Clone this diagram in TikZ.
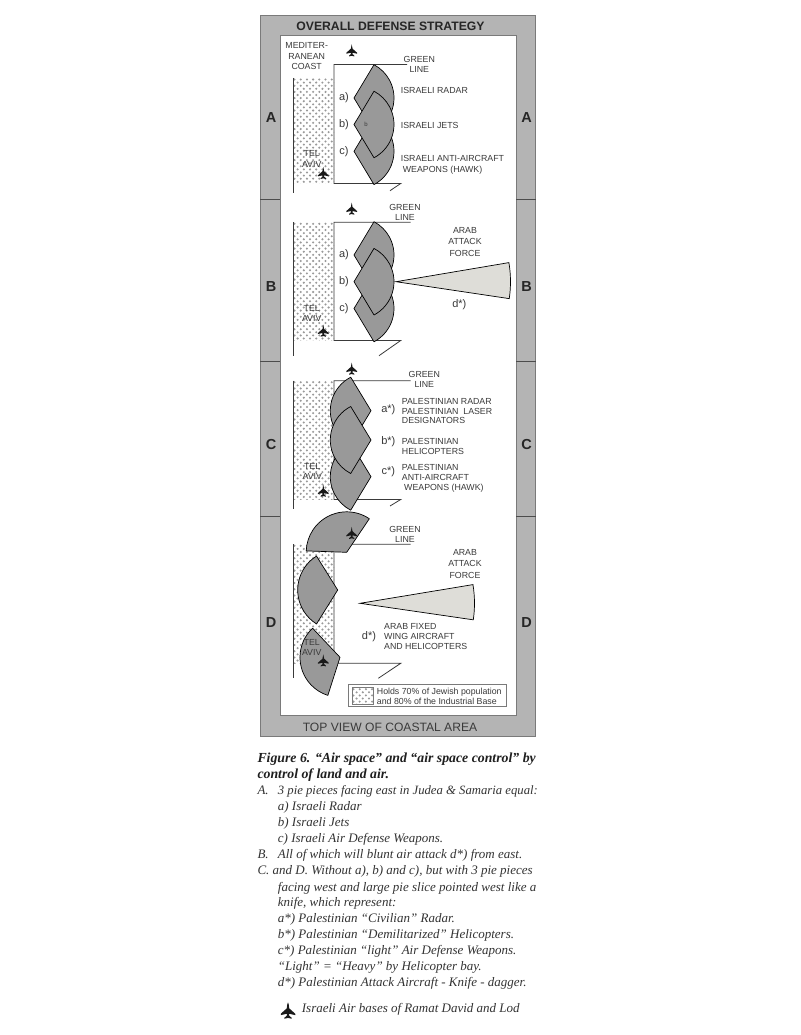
\documentclass[tikz,border=0pt]{standalone}
\usepackage{fontspec}
\setmainfont{Liberation Serif}
\setsansfont{Liberation Sans}
\definecolor{barg}{HTML}{B4B4B4}
\definecolor{barl}{HTML}{7A7A7A}
\definecolor{pieg}{HTML}{999999}
\definecolor{knifeg}{HTML}{DEDDD8}
\definecolor{inkg}{HTML}{3A3A3A}
\definecolor{capg}{HTML}{333333}
\tikzset{
 barbox/.style={draw=barl,fill=barg,line width=.8pt},
 pieshape/.style={draw=black,fill=pieg,line width=.7pt,line join=round},
 knifeshape/.style={draw=black,fill=knifeg,line width=.7pt,line join=miter},
 boundary/.style={draw=inkg,line width=.8pt},
 lbl/.style={font=\sffamily\fontsize{8.8}{9}\selectfont,text=inkg,inner sep=0pt,text height=6pt,text depth=0pt},
 lblw/.style={lbl,anchor=west},
 letter/.style={font=\sffamily\fontsize{11}{11}\selectfont,text=inkg,inner sep=0pt,text height=8pt,text depth=2pt},
 side/.style={font=\sffamily\bfseries\fontsize{14.5}{15}\selectfont,text=black!85,inner sep=0pt},
 captxt/.style={font=\itshape\fontsize{13}{14}\selectfont,text=capg,inner sep=0pt,anchor=west,text height=8.5pt,text depth=3pt},
 captxtb/.style={font=\itshape\bfseries\fontsize{13.8}{14}\selectfont,text=black!88,inner sep=0pt,anchor=west,text height=8.5pt,text depth=3pt},
}
\newcommand{\pieat}[5]{\path[pieshape] (#1,#2) -- ++(#4:#3pt) arc[start angle=#4,end angle=#5,radius=#3pt] -- cycle;}
% east-facing pie: apex, with the arc's centre 2.3 to the right of it
\newcommand{\pieeast}[2]{\path[pieshape] (#1,#2) -- ($(#1+2.3,#2)+(-62:37.7pt)$) arc[start angle=-62,end angle=62,radius=37.7pt] -- cycle;}
% west-facing pie: apex, with the arc's centre 3 to the left of it
\newcommand{\piewest}[2]{\path[pieshape] (#1,#2) -- ($(#1-3,#2)+(117.3:37.7pt)$) arc[start angle=117.3,end angle=242.7,radius=37.7pt] -- cycle;}
\newcommand{\knifeat}[5]{\path[knifeshape] (#1,#2) -- ++(#4:#3pt) arc[start angle=#4,end angle=#5,radius=#3pt] -- cycle;}
\newcommand{\jetsc}[3]{\begin{scope}[shift={(#1,#2)},scale=#3]
 \fill[black!90] (0,-7) .. controls (.7,-5.5) and (.9,-4) .. (.9,-2.2) -- (5.8,2.2) -- (5.8,3.3) -- (1,2.2) -- (.8,3.6) -- (2.9,5.4) -- (2.9,6.2) -- (0,5.5) -- (-2.9,6.2) -- (-2.9,5.4) -- (-.8,3.6) -- (-1,2.2) -- (-5.8,3.3) -- (-5.8,2.2) -- (-.9,-2.2) .. controls (-.9,-4) and (-.7,-5.5) .. (0,-7) -- cycle;
\end{scope}}
\newcommand{\jetat}[2]{\jetsc{#1}{#2}{.92}}
\newcommand{\stipple}[4]{\begin{scope}
 \clip (#1,#2) rectangle (#3,#4);
 \fill[white] (#1,#2) rectangle (#3,#4);
 \foreach \ix in {0,...,28}{\foreach \iy in {0,...,42}{
  \pgfmathsetmacro{\dx}{#1+1.5+\ix*3.1}
  \pgfmathsetmacro{\dy}{#2+1.5+\iy*3.1}
  \pgfmathparse{int(mod(\ix+\iy,2))}
  \ifnum\pgfmathresult=0 \fill[black!40] (\dx,\dy) circle (1.15pt);\fi
 }}
\end{scope}}
\usetikzlibrary{calc}
\begin{document}
\begin{tikzpicture}[x=1pt,y=-1pt]
\useasboundingbox (0,0) rectangle (800,1035);
\fill[white] (0,0) rectangle (800,1035);
% frame
\path[barbox] (260,15) rectangle (535.5,736);
\fill[white] (280,35) rectangle (516,715);
\draw[barl,line width=.8pt] (280,35) rectangle (516,715);
\foreach \yy in {199,361,516}{
 \draw[black!70,line width=.7pt] (260,\yy) -- (280,\yy);
 \draw[black!70,line width=.7pt] (516,\yy) -- (535.5,\yy);
}
\node[font=\sffamily\bfseries\fontsize{12.2}{13}\selectfont,text=black!85,inner sep=0pt] (title) at (390.5,26) {OVERALL DEFENSE STRATEGY};
\node[font=\sffamily\fontsize{12.1}{13}\selectfont,text=inkg,inner sep=0pt] (foot) at (390,727) {TOP VIEW OF COASTAL AREA};
\node[side] (la) at (271,117.3) {A}; \node[side] (ra) at (526.7,117.3) {A};
\node[side] (lb) at (271,286.7) {B}; \node[side] (rb) at (526.7,286.7) {B};
\node[side] (lc) at (271,445) {C}; \node[side] (rc) at (526.7,445) {C};
\node[side] (ld) at (271,623) {D}; \node[side] (rd) at (526.7,623) {D};
% ---------- A
\stipple{293}{78}{334}{183.5}
\draw[boundary] (293,78) -- (293,193);
\draw[boundary] (407,64.5) -- (334,64.5) -- (334,183.5) -- (400.7,183.5) -- (390,190.7);
\pieeast{354}{98}
\pieeast{354}{151.3}
\pieeast{354}{124.5}
\jetat{351.7}{50.7}\jetat{323.3}{173.3}
\node[lbl] (a1) at (306.7,45.7) {MEDITER-};
\node[lbl] (a2) at (306.7,56.3) {RANEAN};
\node[lbl] (a3) at (306.7,67) {COAST};
\node[lbl] (a4) at (419.3,59.3) {GREEN};
\node[lbl] (a5) at (419.3,70) {LINE};
\node[letter] (a6) at (344,97.3) {a)};
\node[letter] (a7) at (344,124.3) {b)};
\node[letter] (a8) at (344,151.7) {c)};
\node[lbl,font=\sffamily\fontsize{6}{7}\selectfont] (a9) at (366,124) {b};
\node[lblw] (a10) at (400.7,91) {ISRAELI RADAR};
\node[lblw] (a11) at (400.7,125.7) {ISRAELI JETS};
\node[lblw] (a12) at (400.7,159) {ISRAELI ANTI-AIRCRAFT};
\node[lblw] (a13) at (402.7,169.3) {WEAPONS (HAWK)};
\node[lbl] (a14) at (311.7,154) {TEL};
\node[lbl] (a15) at (311.7,164.3) {AVIV};
% ---------- B
\stipple{293}{222.3}{334}{340.5}
\draw[boundary] (293,222.3) -- (293,356);
\draw[boundary] (410.7,222.3) -- (334,222.3) -- (334,340.5) -- (400.7,340.5) -- (379,355.7);
\pieeast{354}{255}
\pieeast{354}{308.5}
\pieeast{354}{281.7}
\knifeat{396}{281.7}{114.5}{-8.5}{9.6}
\jetat{351.7}{209}\jetat{323.3}{331}
\node[lbl] (b1) at (405,207.7) {GREEN};
\node[lbl] (b2) at (405,217.3) {LINE};
\node[letter] (b3) at (344,254.3) {a)};
\node[letter] (b4) at (344,281.7) {b)};
\node[letter] (b5) at (344,308.3) {c)};
\node[lbl] (b6) at (465,230) {ARAB};
\node[lbl] (b7) at (465,241.7) {ATTACK};
\node[lbl] (b8) at (465,253) {FORCE};
\node[letter] (b9) at (459.3,304.3) {d*)};
\node[lbl] (b10) at (311.7,308.3) {TEL};
\node[lbl] (b11) at (311.7,318.3) {AVIV};
% ---------- C
\stipple{293}{380.7}{334}{499.5}
\draw[boundary] (293,380.7) -- (293,509);
\draw[boundary] (410.7,380.7) -- (334,380.7) -- (334,499.5) -- (400.7,499.5) -- (390,506);
\piewest{371}{410.7}
\piewest{371}{476.7}
\piewest{371}{440}
\jetat{351.7}{369}\jetat{323.3}{491}
\node[lbl] (c1) at (424.3,374.3) {GREEN};
\node[lbl] (c2) at (424.3,384.3) {LINE};
\node[letter] (c3) at (388.3,409.3) {a*)};
\node[letter] (c4) at (388.3,441) {b*)};
\node[letter] (c5) at (388.3,471) {c*)};
\node[lblw] (c6) at (401.7,401.7) {PALESTINIAN RADAR};
\node[lblw] (c7) at (401.7,411.7) {PALESTINIAN\ \ LASER};
\node[lblw] (c8) at (401.7,420) {DESIGNATORS};
\node[lblw] (c9) at (401.7,441.7) {PALESTINIAN};
\node[lblw] (c10) at (401.7,451) {HELICOPTERS};
\node[lblw] (c11) at (401.7,467.3) {PALESTINIAN};
\node[lblw] (c12) at (401.7,477.7) {ANTI-AIRCRAFT};
\node[lblw] (c13) at (404,487.3) {WEAPONS (HAWK)};
\node[lbl] (c14) at (312.3,466.7) {TEL};
\node[lbl] (c15) at (312.3,476.7) {AVIV};
% ---------- D
\stipple{293}{544.3}{334}{663.3}
\draw[boundary] (293,544.3) -- (293,678.3);
\draw[boundary] (410.7,544.3) -- (334,544.3) -- (334,663.3) -- (400.7,663.3) -- (378.3,678.3);
\pieat{346.7}{552.3}{40.5}{56}{178}
\pieat{337.7}{590}{40}{122}{238}
\pieat{340}{657.3}{40}{133.3}{252.3}
\knifeat{360}{603.3}{114.5}{-8.3}{9.4}
\jetat{351.7}{533.3}\jetat{323.3}{660.7}
\node[lbl] (d1) at (405,529) {GREEN};
\node[lbl] (d2) at (405,539.3) {LINE};
\node[lbl] (d3) at (465,552.3) {ARAB};
\node[lbl] (d4) at (465,563.3) {ATTACK};
\node[lbl] (d5) at (465,575) {FORCE};
\node[letter] (d6) at (369,636.7) {d*)};
\node[lblw] (d7) at (384,626) {ARAB FIXED};
\node[lblw] (d8) at (384,636.7) {WING AIRCRAFT};
\node[lblw] (d9) at (384,646.7) {AND HELICOPTERS};
\node[lbl] (d10) at (311.7,642.3) {TEL};
\node[lbl] (d11) at (311.7,652.7) {AVIV};
% legend
\draw[barl,fill=white,line width=.7pt] (348.3,684.3) rectangle (506,706.7);
\stipple{352}{687.7}{373}{704.3}
\draw[barl,line width=.5pt] (352,687.7) rectangle (373,704.3);
\node[lblw] (k1) at (376.7,691.7) {Holds 70\% of Jewish population};
\node[lblw] (k2) at (376.7,701) {and 80\% of the Industrial Base};
% caption
\node[captxtb] (t1) at (257.3,760) {Figure 6. “Air space” and “air space control” by};
\node[captxtb] (t2) at (257.3,775.7) {control of land and air.};
\node[captxt] (t3) at (257.3,791.7) {A.};
\node[captxt,font=\itshape\fontsize{12.7}{14}\selectfont] (t4) at (277.7,791.7) {3 pie pieces facing east in Judea \& Samaria equal:};
\node[captxt] (t5) at (277.7,807.7) {a) Israeli Radar};
\node[captxt] (t6) at (277.7,824) {b) Israeli Jets};
\node[captxt] (t7) at (277.7,840) {c) Israeli Air Defense Weapons.};
\node[captxt] (t8) at (257.3,856) {B.};
\node[captxt] (t9) at (277.7,856) {All of which will blunt air attack d*) from east.};
\node[captxt] (t10) at (257.3,871.7) {C. and D. Without a), b) and c), but with 3 pie pieces};
\node[captxt] (t11) at (277.7,888.3) {facing west and large pie slice pointed west like a};
\node[captxt] (t12) at (277.7,904) {knife, which represent:};
\node[captxt] (t13) at (277.7,920) {a*) Palestinian “Civilian” Radar.};
\node[captxt] (t14) at (277.7,936) {b*) Palestinian “Demilitarized” Helicopters.};
\node[captxt] (t15) at (277.7,952) {c*) Palestinian “light” Air Defense Weapons.};
\node[captxt] (t16) at (277.7,967.7) {“Light” = “Heavy” by Helicopter bay.};
\node[captxt] (t17) at (277.7,984) {d*) Palestinian Attack Aircraft - Knife - dagger.};
\jetsc{288}{1011}{1.25}
\node[captxt] (t18) at (301.7,1010) {Israeli Air bases of Ramat David and Lod};
\end{tikzpicture}
\end{document}
